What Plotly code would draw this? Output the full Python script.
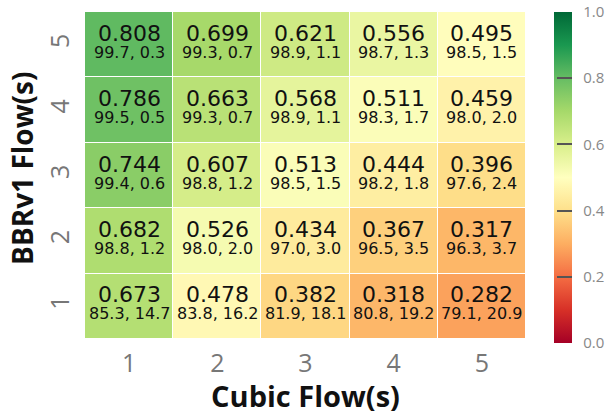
import plotly.graph_objects as go

cubic_flows = [1, 2, 3, 4, 5]
bbr_flows = [1, 2, 3, 4, 5]
tick_labels = ["1", "2", "3", "4", "5"]

# fairness values, rows = BBRv1 flows 1..5, cols = Cubic flows 1..5
fairness = [
    [0.673, 0.478, 0.382, 0.318, 0.282],
    [0.682, 0.526, 0.434, 0.367, 0.317],
    [0.744, 0.607, 0.513, 0.444, 0.396],
    [0.786, 0.663, 0.568, 0.511, 0.459],
    [0.808, 0.699, 0.621, 0.556, 0.495],
]
bbr_share = [
    [85.3, 83.8, 81.9, 80.8, 79.1],
    [98.8, 98.0, 97.0, 96.5, 96.3],
    [99.4, 98.8, 98.5, 98.2, 97.6],
    [99.5, 99.3, 98.9, 98.3, 98.0],
    [99.7, 99.3, 98.9, 98.7, 98.5],
]
cubic_share = [
    [14.7, 16.2, 18.1, 19.2, 20.9],
    [1.2, 2.0, 3.0, 3.5, 3.7],
    [0.6, 1.2, 1.5, 1.8, 2.4],
    [0.5, 0.7, 1.1, 1.7, 2.0],
    [0.3, 0.7, 1.1, 1.3, 1.5],
]
cbar_ticks = [0, 0.2, 0.4, 0.6, 0.8, 1.0]
cbar_labels = ["0.0", "0.2", "0.4", "0.6", "0.8", "1.0"]

fig = go.Figure()
fig.add_trace(go.Heatmap(
    x=cubic_flows, y=bbr_flows, z=fairness,
    colorscale="RdYlGn", zmin=0, zmax=1,
    xgap=1, ygap=1,
    colorbar=dict(
        x=1.0636, xanchor="left", thickness=18, lenmode="pixels", len=331,
        y=0.494, yanchor="middle", xpad=0, ypad=0,
        outlinewidth=0, ticks="inside", ticklen=15, tickcolor="#555",
        tickwidth=2, tickvals=cbar_ticks,
        ticktext=["&nbsp;&nbsp;" + t for t in cbar_labels],
        tickfont=dict(family="Open Sans", size=15, color="#888"),
    ),
    hoverinfo="skip",
))

annotations = []
for i, yv in enumerate(bbr_flows):
    for j, xv in enumerate(cubic_flows):
        annotations.append(dict(
            x=xv, y=yv, xref="x", yref="y", showarrow=False,
            text=f"{fairness[i][j]:.3f}",
            font=dict(family="DejaVu Sans", size=22, color="#111"),
            yshift=11.5, borderpad=0,
        ))
        annotations.append(dict(
            x=xv, y=yv, xref="x", yref="y", showarrow=False,
            text=f"{bbr_share[i][j]:.1f}, {cubic_share[i][j]:.1f}",
            font=dict(family="DejaVu Sans", size=16, color="#111"),
            yshift=-7.5, borderpad=0,
        ))

fig.update_layout(
    width=610, height=415,
    margin=dict(l=85, r=84, t=12, b=76, autoexpand=False),
    paper_bgcolor="white", plot_bgcolor="white",
    annotations=annotations,
    xaxis=dict(
        tickvals=cubic_flows, ticktext=tick_labels, showgrid=False, zeroline=False,
        tickfont=dict(family="Open Sans", size=25, color="#777"),
        title=dict(text="<b>Cubic Flow(s)</b>", font=dict(family="Open Sans", size=29, color="#111"), standoff=4),
        ticks="", ticklabelstandoff=7,
    ),
    yaxis=dict(
        tickvals=bbr_flows, ticktext=tick_labels, showgrid=False, zeroline=False,
        tickfont=dict(family="Open Sans", size=25, color="#777"), tickangle=-90,
        title=dict(text="&nbsp;&nbsp;<b>BBRv1 Flow(s)</b>", font=dict(family="Open Sans", size=28, color="#111"), standoff=0),
        ticks="", ticklabelstandoff=10,
    ),
)

fig.write_html(
    "out.html",
    config={"displayModeBar": False},
    post_script="document.body.style.margin='0';document.body.style.overflow='hidden';",
)
